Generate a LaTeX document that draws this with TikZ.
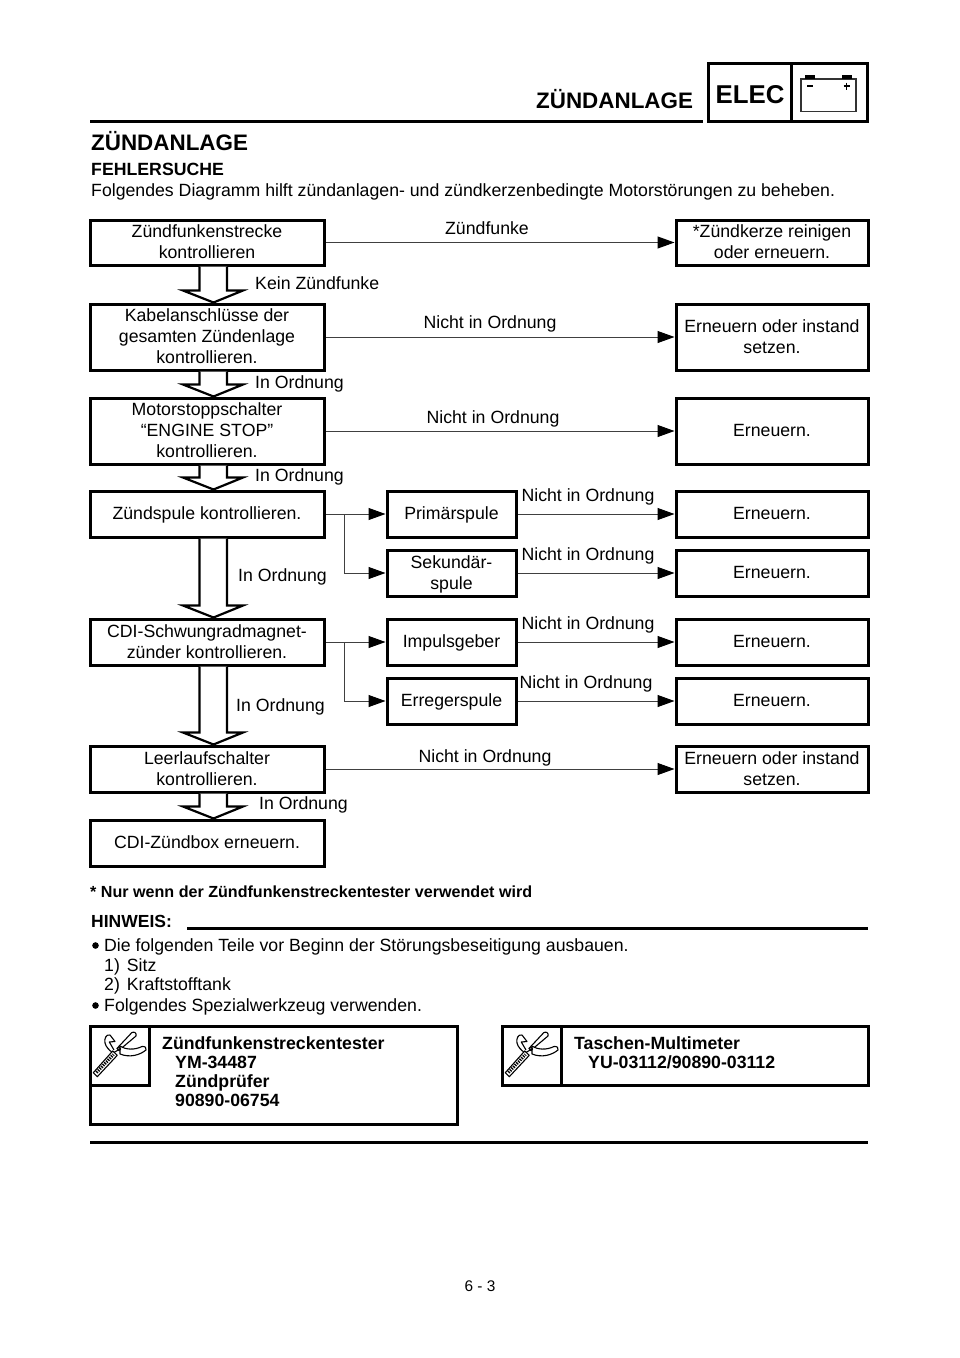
\documentclass[tikz,border=0pt]{standalone}
\usepackage{fontspec}
\setmainfont{Liberation Sans}
\usetikzlibrary{calc,arrows.meta}
\tikzset{
  x=1pt,y=-1pt,
  fbox/.style={draw=black,line width=3pt,inner sep=0pt,align=center,font=\fs,text depth=1.4pt},
  lab/.style={inner sep=0pt,font=\fs,anchor=base},
  txt/.style={inner sep=0pt,font=\fs,anchor=base west},
  btxt/.style={inner sep=0pt,font=\fsb,anchor=base west},
  conn/.style={draw=black!75,line width=1pt},
  arr/.style={conn,-{Triangle[length=17pt,width=12pt,black]}},
  rule/.style={draw=black,line width=3pt},
  hollow/.style={draw=black,line width=2.2pt,line join=miter,fill=white},
  plain/.style={draw=black,line width=3pt,inner sep=0pt},
}
\newcommand{\fs}{\fontsize{17.7}{21}\selectfont}
\newcommand{\fsb}{\fontsize{17.7}{19.5}\selectfont\bfseries}
\newcommand{\fbx}[6]{% name x1 y1 x2 y2 text
  \node[fbox,minimum width=#4-#2 pt,minimum height=#5-#3 pt] (#1) at ({(#2+#4)/2},{(#3+#5)/2}) {#6};}
\newcommand{\hol}[2]{% from node to node
  \draw[hollow] let \p1=(#1.south),\p2=(#2.north) in
    (\x1-7.5,\y1) -- (\x1-7.5,\y2+12pt) -- (\x1-24,\y2+12pt) -- (\x1+6.5,\y2) -- (\x1+36,\y2+12pt) -- (\x1+20,\y2+12pt) -- (\x1+20,\y1);
}
\newcommand{\wrench}[2]{%
  \begin{scope}[shift={(#1,#2)},line width=1.1pt,line join=round]
    % upper arm and hook
    \draw[fill=white] (24,24) -- (19.3,16) -- (25,15.5) -- (20,9) .. controls (16,8) and (14,13) .. (15,17) .. controls (16,21) and (19,24) .. (23,27) -- (31.7,22) -- (46,10) .. controls (47,7) and (44,5) .. (41.7,6.7) -- (26.7,22.7);
    % right arm
    \draw[fill=white] (30,20) .. controls (36,24) and (45,24) .. (52,20.5) .. controls (55,20) and (57,22) .. (56,24) .. controls (50,29) and (40,32) .. (30,28) -- cycle;
    % handle
    \draw[fill=white] (3.3,46.7) -- (22.7,25) -- (27.3,29.3) -- (7.3,50.7) -- cycle;
    \draw[line width=3pt,dash pattern=on 1.3pt off 1.1pt] (6.5,46.5) -- (23.5,28.5);
    \draw[line width=0.8pt] (29,23) circle (1.8);
  \end{scope}}
\begin{document}
\begin{tikzpicture}
\useasboundingbox (0,0) rectangle (960,1358);
% header
\node[inner sep=0pt,font=\fontsize{22.4}{24}\selectfont\bfseries,anchor=base west] (h1) at (536,108) {ZÜNDANLAGE};
\node[coordinate] (hl1) at (90,121) {};
\node[coordinate] (hl2) at (703,121) {};
\draw[rule] (hl1) -- (hl2);
\node[plain,minimum width=83pt,minimum height=58pt] (elec) at (749.5,92.5) {};
\node[plain,minimum width=76pt,minimum height=58pt] (batt) at (829,92.5) {};
\node[inner sep=0pt,font=\fontsize{25.8}{30}\selectfont\bfseries,anchor=base] (el) at (750,103) {ELEC};
\draw[draw=black!80,line width=1.2pt] (801,79) rectangle (856,111.5);
\fill (805,75) rectangle (815,79);
\fill (842,75) rectangle (852,79);
\draw[line width=1.3pt] (807,86) -- (813,86);
\draw[line width=1.4pt] (843.5,86) -- (850,86) (846.7,82.5) -- (846.7,89.5);
% title
\node[inner sep=0pt,font=\fontsize{22.4}{24}\selectfont\bfseries,anchor=base west] (title) at (91,150) {ZÜNDANLAGE};
\node[btxt] (feh) at (91,175) {FEHLERSUCHE};
\node[txt,font=\fontsize{17.7}{20}\selectfont] (intro) at (91,196) {Folgendes Diagramm hilft zündanlagen- und zündkerzenbedingte Motorstörungen zu beheben.};
% boxes
\fbx{a1}{90}{220}{324}{265}{Zündfunkenstrecke\\kontrollieren}
\fbx{b1}{676}{220}{868}{265}{*Zündkerze reinigen\\oder erneuern.}
\fbx{a2}{90}{304}{324}{370}{Kabelanschlüsse der\\gesamten Zündenlage\\kontrollieren.}
\fbx{b2}{676}{304}{868}{370}{Erneuern oder instand\\setzen.}
\fbx{a3}{90}{398}{324}{464}{Motorstoppschalter\\“ENGINE STOP”\\kontrollieren.}
\fbx{b3}{676}{398}{868}{464}{Erneuern.}
\fbx{a4}{90}{491}{324}{537}{Zündspule kontrollieren.}
\fbx{p}{387}{491}{516}{537}{Primärspule}
\fbx{b4}{676}{491}{868}{537}{Erneuern.}
\fbx{s}{387}{550}{516}{596}{Sekundär-\\spule}
\fbx{b5}{676}{550}{868}{596}{Erneuern.}
\fbx{a5}{90}{619}{324}{665}{CDI-Schwungradmagnet-\\zünder kontrollieren.}
\fbx{i}{387}{619}{516}{665}{Impulsgeber}
\fbx{b6}{676}{619}{868}{665}{Erneuern.}
\fbx{e}{387}{678}{516}{724}{Erregerspule}
\fbx{b7}{676}{678}{868}{724}{Erneuern.}
\fbx{a6}{90}{746}{324}{792}{Leerlaufschalter\\kontrollieren.}
\fbx{b8}{676}{746}{868}{792}{Erneuern oder instand\\setzen.}
\fbx{a7}{90}{820}{324}{866}{CDI-Zündbox erneuern.}
% connectors
\draw[arr] (a1.east) -- (b1.west);
\draw[arr] (a2.east) -- (b2.west);
\draw[arr] (a3.east) -- (b3.west);
\draw[arr] (a4.east) -- (p.west);
\draw[arr] (p.east) -- (b4.west);
\draw[arr] (s.east) -- (b5.west);
\draw[arr] (a5.east) -- (i.west);
\draw[arr] (i.east) -- (b6.west);
\draw[arr] (e.east) -- (b7.west);
\draw[arr] (a6.east) -- (b8.west);
\node[coordinate] (j1) at (344.5,514) {};
\node[coordinate] (j2) at (344.5,642) {};
\draw[arr] (j1) |- (s.west);
\draw[arr] (j2) |- (e.west);
% hollow arrows
\hol{a1}{a2}
\hol{a2}{a3}
\hol{a3}{a4}
\hol{a4}{a5}
\hol{a5}{a6}
\hol{a6}{a7}
% labels
\node[lab] (l1) at (487,234) {Zündfunke};
\node[txt] (l2) at (255,289) {Kein Zündfunke};
\node[lab] (l3) at (490,328) {Nicht in Ordnung};
\node[txt] (l4) at (255,388) {In Ordnung};
\node[lab] (l5) at (493,423) {Nicht in Ordnung};
\node[txt] (l6) at (255,481) {In Ordnung};
\node[lab] (l7) at (588,501) {Nicht in Ordnung};
\node[lab] (l8) at (588,560) {Nicht in Ordnung};
\node[txt] (l9) at (238,581) {In Ordnung};
\node[lab] (l10) at (588,629) {Nicht in Ordnung};
\node[lab] (l11) at (586,688) {Nicht in Ordnung};
\node[txt] (l12) at (236,711) {In Ordnung};
\node[lab] (l13) at (485,762) {Nicht in Ordnung};
\node[txt] (l14) at (259,809) {In Ordnung};
% footnote
\node[btxt,font=\fontsize{16.1}{18}\selectfont\bfseries] (fn) at (90,897) {* Nur wenn der Zündfunkenstreckentester verwendet wird};
\node[btxt,font=\fontsize{17.5}{20}\selectfont\bfseries] (hw) at (91,927) {HINWEIS:};
\node[coordinate] (r1) at (187,928) {};
\node[coordinate] (r2) at (868,928) {};
\draw[rule] (r1) -- (r2);
\fill (95.5,945.5) circle (3.3);
\node[txt] (n1) at (104,951) {Die folgenden Teile vor Beginn der Störungsbeseitigung ausbauen.};
\node[txt] (n2) at (104,971) {1)\hspace{7pt}Sitz};
\node[txt] (n3) at (104,990) {2)\hspace{7pt}Kraftstofftank};
\fill (95.5,1005.5) circle (3.3);
\node[txt] (n4) at (104,1011) {Folgendes Spezialwerkzeug verwenden.};
% tool boxes
\node[plain,minimum width=367pt,minimum height=98pt] (t1) at (273.5,1075) {};
\node[plain,minimum width=59pt,minimum height=59pt] (ic1) at (119.5,1055.5) {};
\wrench{90}{1026}
\node[plain,minimum width=366pt,minimum height=59pt] (t2) at (685,1055.5) {};
\node[plain,minimum width=59pt,minimum height=59pt] (ic2) at (531.5,1055.5) {};
\wrench{502}{1026}
\node[btxt] (t1a) at (162,1049) {Zündfunkenstreckentester};
\node[btxt] (t1b) at (175,1068) {YM-34487};
\node[btxt] (t1c) at (175,1087) {Zündprüfer};
\node[btxt] (t1d) at (175,1106) {90890-06754};
\node[btxt] (t2a) at (574,1049) {Taschen-Multimeter};
\node[btxt] (t2b) at (588,1068) {YU-03112/90890-03112};
\node[coordinate] (r3) at (90,1142) {};
\node[coordinate] (r4) at (868,1142) {};
\draw[rule] (r3) -- (r4);
\node[inner sep=0pt,font=\fontsize{15.4}{17}\selectfont,anchor=base] (pg) at (480,1291) {6 - 3};
\end{tikzpicture}
\end{document}
